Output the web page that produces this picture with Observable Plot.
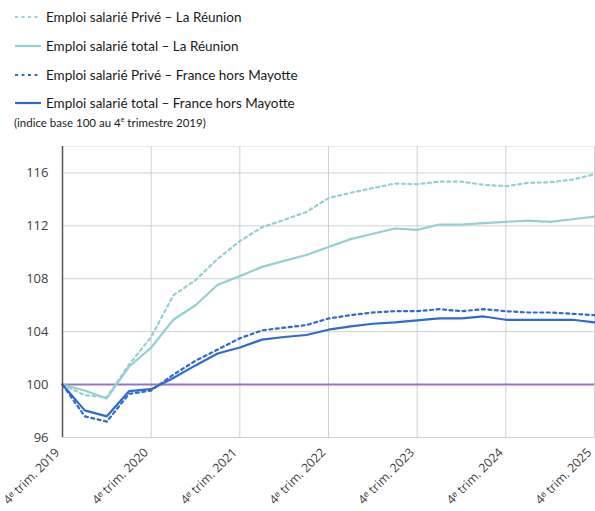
<!DOCTYPE html>
<html><head><meta charset="utf-8">
<script src="https://cdn.jsdelivr.net/npm/d3@7"></script>
<script src="https://cdn.jsdelivr.net/npm/@observablehq/plot@0.6"></script>
<style>
body{margin:0;background:#fff;font-family:Lato,"Open Sans",sans-serif;}
#legend{position:relative;height:135px;width:595px;}
.row{position:absolute;left:14px;display:flex;align-items:center;font-size:13.5px;color:#1a1a1a;height:20px;white-space:nowrap}
.row svg{margin-right:4px}
.note{position:absolute;left:14px;top:115px;font-size:11.5px;color:#1a1a1a;white-space:nowrap}
.note sup{font-size:7px}
#chart svg text{font-family:"Open Sans",sans-serif}
</style></head><body>
<div id="legend"></div><div id="chart"></div>
<script>
// Quarters from 4e trim. 2019 to 4e trim. 2025
const quarters = ["2019T4","2020T1","2020T2","2020T3","2020T4","2021T1","2021T2","2021T3","2021T4",
  "2022T1","2022T2","2022T3","2022T4","2023T1","2023T2","2023T3","2023T4",
  "2024T1","2024T2","2024T3","2024T4","2025T1","2025T2","2025T3","2025T4"];
const reunionPrive = [100,99.2,99.05,101.5,103.6,106.75,107.9,109.5,110.85,111.9,112.45,113.05,114.1,114.5,114.85,115.2,115.15,115.35,115.35,115.1,115.0,115.25,115.3,115.5,115.9];
const reunionTotal = [100,99.55,98.95,101.35,102.8,104.9,106.0,107.55,108.2,108.9,109.35,109.8,110.4,111.0,111.4,111.8,111.7,112.1,112.1,112.2,112.3,112.4,112.3,112.5,112.7];
const francePrive = [100,97.6,97.2,99.3,99.55,100.75,101.8,102.65,103.5,104.1,104.3,104.5,105.0,105.25,105.45,105.55,105.55,105.7,105.55,105.7,105.55,105.45,105.45,105.35,105.25];
const franceTotal = [100,98.05,97.6,99.5,99.65,100.5,101.45,102.35,102.8,103.4,103.6,103.75,104.15,104.4,104.6,104.7,104.85,105.0,105.0,105.15,104.9,104.9,104.9,104.9,104.7];

const seriesNames = ["Emploi salarié Privé – La Réunion","Emploi salarié total – La Réunion","Emploi salarié Privé – France hors Mayotte","Emploi salarié total – France hors Mayotte"];
const seriesValues = [reunionPrive, reunionTotal, francePrive, franceTotal];
const seriesColors = ["#93d0d1","#93d0d1","#2f6bcc","#2f6bcc"];
const seriesDash = ["3,3.5",null,"3,3.5",null];

const tickQuarters = ["2019T4","2020T4","2021T4","2022T4","2023T4","2024T4","2025T4"];
const tickLabels = ["4ᵉ trim. 2019","4ᵉ trim. 2020","4ᵉ trim. 2021","4ᵉ trim. 2022","4ᵉ trim. 2023","4ᵉ trim. 2024","4ᵉ trim. 2025"];
const yTicks = [96,100,104,108,112,116];
const refValue = 100;
const refColor = "#9b72c4";

// legend
const legend = document.getElementById("legend");
const rowTops = [7,36,65,93];
seriesNames.forEach((n,i)=>{
  const r = document.createElement("div");
  r.className="row"; r.style.top=rowTops[i]+"px";
  r.innerHTML = `<svg width="28" height="6"><line x1="1" x2="27" y1="3" y2="3" stroke="${seriesColors[i]}" stroke-width="2.2" ${seriesDash[i]?`stroke-dasharray="${seriesDash[i]}"`:""}/></svg><span>${n}</span>`;
  legend.appendChild(r);
});
const note = document.createElement("div");
note.className="note"; note.innerHTML="(indice base 100 au 4<sup>e</sup> trimestre 2019)";
legend.appendChild(note);

const rows = [];
seriesValues.forEach((vals,s)=>vals.forEach((v,i)=>rows.push({q:i, v, s})));
const tickIdx = tickQuarters.map(q=>quarters.indexOf(q));

const lines = seriesValues.map((vals,s)=>Plot.line(rows.filter(d=>d.s===s),{
  x:"q", y:"v", stroke:seriesColors[s], strokeWidth:2.2, strokeDasharray:seriesDash[s]||undefined
}));

const chart = Plot.plot({
  width:595, height:376, marginTop:11, marginLeft:62, marginRight:1, marginBottom:74,
  style:{fontFamily:"'Open Sans',sans-serif", fontSize:"13px", color:"#404040", background:"#fff"},
  x:{domain:[0,quarters.length-1], axis:null},
  y:{domain:[96,118], axis:null},
  marks:[
    Plot.frame({stroke:"#ececec"}),
    Plot.gridY(yTicks,{stroke:"#d0d0d0", strokeOpacity:1}),
    Plot.gridX(tickIdx,{stroke:"#d0d0d0", strokeOpacity:1}),
    Plot.axisY(yTicks,{tickSize:0, tickPadding:14, fontSize:13, label:null}),
    Plot.axisX(tickIdx,{tickSize:0, tickRotate:-45, tickPadding:13, dx:-5, tickFormat:d=>tickLabels[tickIdx.indexOf(d)], fontSize:12.3, label:null}),
    Plot.ruleY([refValue],{stroke:refColor, strokeWidth:2}),
    ...lines,
    Plot.ruleX([0],{stroke:"#555", strokeWidth:1.5})
  ]
});
document.getElementById("chart").appendChild(chart);
</script>
</body></html>
